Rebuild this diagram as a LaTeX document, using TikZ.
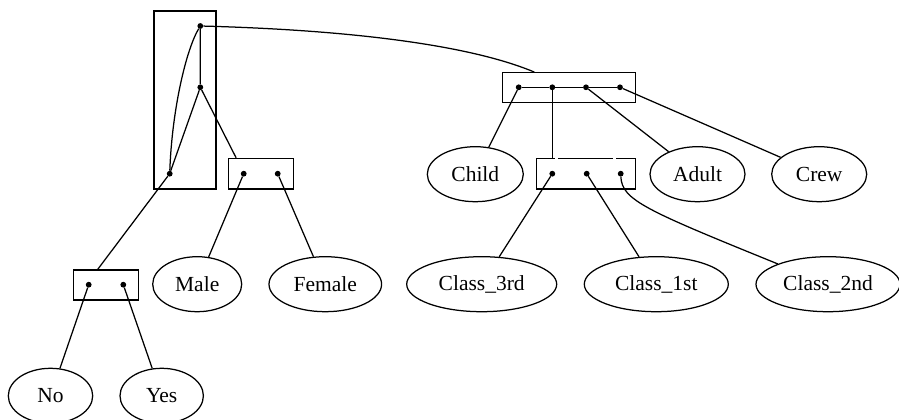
\documentclass[tikz,border=0pt]{standalone}
\usepackage{fontspec}
\setmainfont{Liberation Serif}
\usetikzlibrary{shapes.geometric}
\begin{document}
\begin{tikzpicture}[x=1pt,y=-1pt,
  recbox/.style={draw, line width=1.25pt, inner sep=0pt},
  pin/.style={circle, fill=black, inner sep=0pt, minimum size=5.8pt},
  leaf/.style={ellipse, draw, line width=1.25pt, minimum height=55pt, inner sep=0pt,
               font=\fontsize{21.5}{25}\selectfont},
  link/.style={line width=1.25pt}]
\useasboundingbox (0,0) rectangle (899,420);

% record boxes
\node[recbox, minimum width=62pt,  minimum height=178pt]  (root)  at (185,100)     {};
\node[recbox, minimum width=65pt,  minimum height=30.7pt] (sex)   at (260.8,173.7) {};
\node[recbox, minimum width=65pt,  minimum height=30pt]   (surv)  at (105.8,285)   {};
\node[recbox, minimum width=133pt, minimum height=30pt]   (age)   at (569.2,87.7)  {};
\node[recbox, minimum width=99pt,  minimum height=30.7pt] (cls)   at (586.2,173.7) {};
% port separators cut into the class box border
\draw[white, line width=1.8pt] (555.3,158.3) -- (557.5,158.3)
                               (613.3,158.3) -- (616.2,158.3);

% ports
\node[pin] (r1) at (200.3,26)    {};
\node[pin] (r2) at (200.3,87.3)  {};
\node[pin] (r3) at (169.7,173.7) {};
\node[pin] (s1) at (243.7,173.7) {};
\node[pin] (s2) at (277.7,173.7) {};
\node[pin] (v1) at (88.7,284.7)  {};
\node[pin] (v2) at (123.3,284.7) {};
\node[pin] (a1) at (518.7,87.3)  {};
\node[pin] (a2) at (552.3,87.3)  {};
\node[pin] (a3) at (586,87.3)    {};
\node[pin] (a4) at (620,87.3)    {};
\node[pin] (c1) at (552.3,173.7) {};
\node[pin] (c2) at (586.7,173.7) {};
\node[pin] (c3) at (620.7,173.7) {};

% leaves
\node[leaf, minimum width=96pt]    (child)  at (475.3,174.2) {Child};
\node[leaf, minimum width=95pt]    (adult)  at (697.5,174.2) {Adult};
\node[leaf, minimum width=95pt]    (crew)   at (819.2,174.2) {Crew};
\node[leaf, minimum width=150pt]   (c3rd)   at (481.7,284.2) {Class\_3rd};
\node[leaf, minimum width=144pt]   (c1st)   at (656.3,284.2) {Class\_1st};
\node[leaf, minimum width=144pt]   (c2nd)   at (828,284.2)   {Class\_2nd};
\node[leaf, minimum width=89pt]    (male)   at (197.2,284.2) {Male};
\node[leaf, minimum width=112.6pt] (female) at (325.3,284.2) {Female};
\node[leaf, minimum width=84.4pt]  (no)     at (50.5,395.8)  {No};
\node[leaf, minimum width=83.4pt]  (yes)    at (161.7,395.8) {Yes};

\coordinate (ageIn)  at ([xshift=-34.9pt]age.north);
\coordinate (sexIn)  at ([xshift=8.4pt]sex.north west);
\coordinate (survIn) at ([xshift=-8.1pt]surv.north);

% connectors
\draw[link] (r1) -- (r2) -- (r3);
\draw[link] (r1) .. controls (186,50) and (172,110) .. (r3);
\draw[link] (r1) .. controls (350,30) and (470,45) .. (ageIn);
\draw[link] (r2) -- (sexIn);
\draw[link] (r3) -- (survIn);
\draw[link] (s1) -- (male);
\draw[link] (s2) -- (female);
\draw[link] (v1) -- (no);
\draw[link] (v2) -- (yes);
\draw[link] (a1) -- (a2) -- (a3) -- (a4);
\draw[link] (a1) -- (child);
\draw[link] (a2) -- (a2 |- cls.north);
\draw[link] (a3) -- (adult);
\draw[link] (a4) -- (crew);
\draw[link] (c1) -- (c3rd);
\draw[link] (c2) -- (c1st);
\draw[link] (c3) .. controls (622,200) and (645,210) .. (c2nd.158);
\end{tikzpicture}
\end{document}
